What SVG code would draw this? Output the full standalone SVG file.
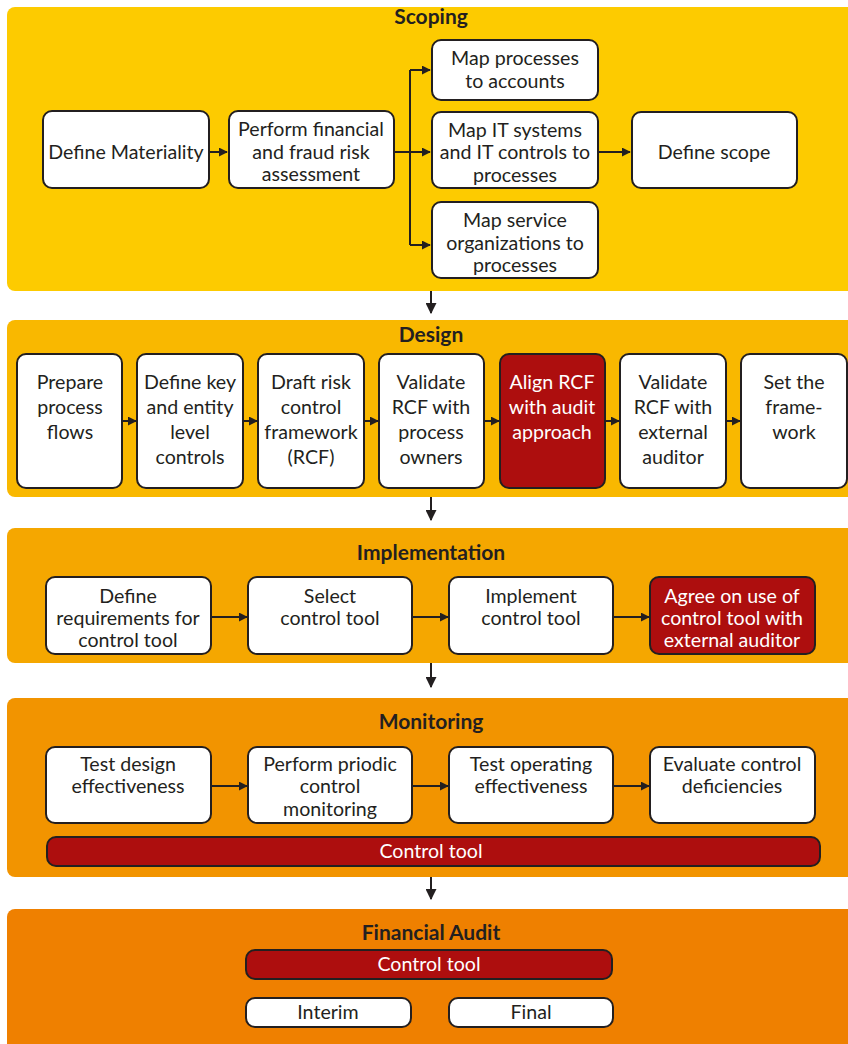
<svg xmlns="http://www.w3.org/2000/svg" width="848" height="1044" viewBox="0 0 848 1044">
<style>
.band{stroke:none}
.box{fill:#fff;stroke:#231f20;stroke-width:2}
.red{fill:#ad0e0e;stroke:#231f20;stroke-width:2}
.t{font-family:Lato,"Liberation Sans",sans-serif;font-size:19.6px;fill:#231f20;text-anchor:middle}
.w{fill:#fff}
.h{font-family:Lato,"Liberation Sans",sans-serif;font-size:21px;font-weight:bold;fill:#231f20;text-anchor:middle}
.c{stroke:#231f20;stroke-width:2;fill:none}
</style>
<defs>
<marker id="ah" viewBox="0 0 10 10" refX="9" refY="5" markerWidth="4.5" markerHeight="4.5" orient="auto" markerUnits="strokeWidth">
<path d="M0,0 L10,5 L0,10 z" fill="#231f20"/>
</marker>
<marker id="bh" viewBox="0 0 10 10" refX="9" refY="5" markerWidth="5.5" markerHeight="5.5" orient="auto" markerUnits="strokeWidth">
<path d="M0,0 L10,5 L0,10 z" fill="#231f20"/>
</marker>
</defs>
<rect width="848" height="1044" fill="#fff"/>

<g id="band-scoping"><rect class="band" x="7" y="7" width="851" height="284" rx="8" fill="#fdcb00"/><text class="h" x="431" y="24">Scoping</text></g>
<g id="band-design"><rect class="band" x="7" y="320" width="851" height="177" rx="8" fill="#f9b800"/><text class="h" x="431" y="342">Design</text></g>
<g id="band-implementation"><rect class="band" x="7" y="528" width="851" height="135" rx="8" fill="#f5a700"/><text class="h" x="431" y="560">Implementation</text></g>
<g id="band-monitoring"><rect class="band" x="7" y="698" width="851" height="179" rx="8" fill="#f29400"/><text class="h" x="431" y="729">Monitoring</text></g>
<g id="band-audit"><rect class="band" x="7" y="909" width="851" height="150" rx="8" fill="#ef8000"/><text class="h" x="431" y="940">Financial Audit</text></g>

<g id="connectors">
<path class="c" d="M209,152 H227" marker-end="url(#ah)"/>
<path class="c" d="M394,152 H410 M410,70 V245" />
<path class="c" d="M410,70 H430" marker-end="url(#ah)"/>
<path class="c" d="M410,152 H430" marker-end="url(#ah)"/>
<path class="c" d="M410,245 H430" marker-end="url(#ah)"/>
<path class="c" d="M598,152 H630" marker-end="url(#ah)"/>
<path class="c" d="M431,291 V313" marker-end="url(#bh)"/>
<path class="c" d="M122,421 H136" marker-end="url(#ah)"/>
<path class="c" d="M243,421 H257" marker-end="url(#ah)"/>
<path class="c" d="M364,421 H378" marker-end="url(#ah)"/>
<path class="c" d="M484,421 H499" marker-end="url(#ah)"/>
<path class="c" d="M605,421 H619" marker-end="url(#ah)"/>
<path class="c" d="M726,421 H740" marker-end="url(#ah)"/>
<path class="c" d="M431,497 V520" marker-end="url(#bh)"/>
<path class="c" d="M211,617 H247" marker-end="url(#ah)"/>
<path class="c" d="M412,617 H448" marker-end="url(#ah)"/>
<path class="c" d="M613,617 H649" marker-end="url(#ah)"/>
<path class="c" d="M431,663 V687" marker-end="url(#bh)"/>
<path class="c" d="M211,786 H247" marker-end="url(#ah)"/>
<path class="c" d="M412,786 H448" marker-end="url(#ah)"/>
<path class="c" d="M613,786 H649" marker-end="url(#ah)"/>
<path class="c" d="M431,877 V899" marker-end="url(#bh)"/>
</g>

<g id="n-materiality"><rect class="box" x="43" y="111" width="166" height="77" rx="9"/><text class="t" x="126" y="159">Define Materiality</text></g>
<g id="n-risk"><rect class="box" x="229" y="111" width="165" height="77" rx="9"/><text class="t" x="311" y="136">Perform financial</text><text class="t" x="311" y="159">and fraud risk</text><text class="t" x="311" y="181">assessment</text></g>
<g id="n-map-accounts"><rect class="box" x="432" y="40" width="166" height="60" rx="9"/><text class="t" x="515" y="65">Map processes</text><text class="t" x="515" y="88">to accounts</text></g>
<g id="n-map-it"><rect class="box" x="432" y="112" width="166" height="76" rx="9"/><text class="t" x="515" y="137">Map IT systems</text><text class="t" x="515" y="159">and IT controls to</text><text class="t" x="515" y="182">processes</text></g>
<g id="n-map-service"><rect class="box" x="432" y="202" width="166" height="76" rx="9"/><text class="t" x="515" y="227">Map service</text><text class="t" x="515" y="250">organizations to</text><text class="t" x="515" y="272">processes</text></g>
<g id="n-scope"><rect class="box" x="632" y="112" width="165" height="76" rx="9"/><text class="t" x="714" y="159">Define scope</text></g>

<g id="n-flows"><rect class="box" x="17" y="354" width="105" height="134" rx="9"/><text class="t" x="70" y="389">Prepare</text><text class="t" x="70" y="414">process</text><text class="t" x="70" y="439">flows</text></g>
<g id="n-key"><rect class="box" x="137" y="354" width="106" height="134" rx="9"/><text class="t" x="190" y="389">Define key</text><text class="t" x="190" y="414">and entity</text><text class="t" x="190" y="439">level</text><text class="t" x="190" y="464">controls</text></g>
<g id="n-draft"><rect class="box" x="258" y="354" width="106" height="134" rx="9"/><text class="t" x="311" y="389">Draft risk</text><text class="t" x="311" y="414">control</text><text class="t" x="311" y="439">framework</text><text class="t" x="311" y="464">(RCF)</text></g>
<g id="n-validate-owners"><rect class="box" x="379" y="354" width="105" height="134" rx="9"/><text class="t" x="431" y="389">Validate</text><text class="t" x="431" y="414">RCF with</text><text class="t" x="431" y="439">process</text><text class="t" x="431" y="464">owners</text></g>
<g id="n-align"><rect class="red" x="500" y="354" width="105" height="134" rx="9"/><text class="t w" x="552" y="389">Align RCF</text><text class="t w" x="552" y="414">with audit</text><text class="t w" x="552" y="439">approach</text></g>
<g id="n-validate-ext"><rect class="box" x="620" y="354" width="106" height="134" rx="9"/><text class="t" x="673" y="389">Validate</text><text class="t" x="673" y="414">RCF with</text><text class="t" x="673" y="439">external</text><text class="t" x="673" y="464">auditor</text></g>
<g id="n-set"><rect class="box" x="741" y="354" width="106" height="134" rx="9"/><text class="t" x="794" y="389">Set the</text><text class="t" x="794" y="414">frame-</text><text class="t" x="794" y="439">work</text></g>

<g id="n-req"><rect class="box" x="46" y="577" width="165" height="77" rx="9"/><text class="t" x="128" y="603">Define</text><text class="t" x="128" y="625">requirements for</text><text class="t" x="128" y="647">control tool</text></g>
<g id="n-select"><rect class="box" x="248" y="577" width="164" height="77" rx="9"/><text class="t" x="330" y="603">Select</text><text class="t" x="330" y="625">control tool</text></g>
<g id="n-implement"><rect class="box" x="449" y="577" width="164" height="77" rx="9"/><text class="t" x="531" y="603">Implement</text><text class="t" x="531" y="625">control tool</text></g>
<g id="n-agree"><rect class="red" x="650" y="577" width="165" height="77" rx="9"/><text class="t w" x="732" y="603">Agree on use of</text><text class="t w" x="732" y="625">control tool with</text><text class="t w" x="732" y="647">external auditor</text></g>

<g id="n-test-design"><rect class="box" x="46" y="747" width="165" height="76" rx="9"/><text class="t" x="128" y="771">Test design</text><text class="t" x="128" y="793">effectiveness</text></g>
<g id="n-periodic"><rect class="box" x="248" y="747" width="164" height="76" rx="9"/><text class="t" x="330" y="771">Perform priodic</text><text class="t" x="330" y="793">control</text><text class="t" x="330" y="816">monitoring</text></g>
<g id="n-test-op"><rect class="box" x="449" y="747" width="164" height="76" rx="9"/><text class="t" x="531" y="771">Test operating</text><text class="t" x="531" y="793">effectiveness</text></g>
<g id="n-evaluate"><rect class="box" x="650" y="747" width="165" height="76" rx="9"/><text class="t" x="732" y="771">Evaluate control</text><text class="t" x="732" y="793">deficiencies</text></g>
<g id="n-tool-mon"><rect class="red" x="47" y="837" width="773" height="29" rx="9"/><text class="t w" x="431" y="858">Control tool</text></g>

<g id="n-tool-audit"><rect class="red" x="246" y="950" width="366" height="29" rx="9"/><text class="t w" x="429" y="971">Control tool</text></g>
<g id="n-interim"><rect class="box" x="246" y="998" width="165" height="29" rx="9"/><text class="t" x="328" y="1019">Interim</text></g>
<g id="n-final"><rect class="box" x="449" y="998" width="164" height="29" rx="9"/><text class="t" x="531" y="1019">Final</text></g>
</svg>
